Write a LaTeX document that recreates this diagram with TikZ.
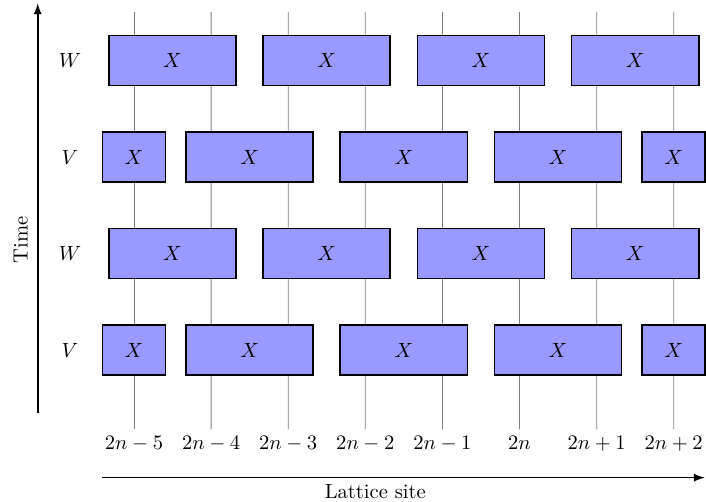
\documentclass[tikz,border=0pt]{standalone}
\usepackage{tikz}
\usetikzlibrary{shapes}
\usetikzlibrary{arrows,positioning}
\tikzset{gate node/.style={rectangle, draw=black, fill=blue!40, thick,
    minimum width=2.17cm, minimum height=0.85cm, inner sep=0pt}}
\tikzset{half node/.style={gate node, minimum width=1.075cm}}
\tikzset{site line/.style={draw=gray, thin}}
\tikzset{site label/.style={anchor=north}}
\tikzset{axis edge/.style={draw=black, thick, -latex}}

\begin{document}
\begin{tikzpicture}
          [xscale=1.316, yscale=1.647, auto]
          \useasboundingbox (-1.738,-0.575) rectangle (7.419,4.627);
          % lattice sites
          \coordinate (top0) at (0,4.503);
          \coordinate (top1) at (1,4.503);
          \coordinate (top2) at (2,4.503);
          \coordinate (top3) at (3,4.503);
          \coordinate (top4) at (4,4.503);
          \coordinate (top5) at (5,4.503);
          \coordinate (top6) at (6,4.503);
          \coordinate (top7) at (7,4.503);
          \node [site label] (site0) at (0,0.178) {$2n-5$};
          \node [site label] (site1) at (1,0.178) {$2n-4$};
          \node [site label] (site2) at (2,0.178) {$2n-3$};
          \node [site label] (site3) at (3,0.178) {$2n-2$};
          \node [site label] (site4) at (4,0.178) {$2n-1$};
          \node [site label] (site5) at (5,0.178) {$2n$};
          \node [site label] (site6) at (6,0.178) {$2n+1$};
          \node [site label] (site7) at (7,0.178) {$2n+2$};
          \draw [site line] (top0) to (site0);
          \draw [site line] (top1) to (site1);
          \draw [site line] (top2) to (site2);
          \draw [site line] (top3) to (site3);
          \draw [site line] (top4) to (site4);
          \draw [site line] (top5) to (site5);
          \draw [site line] (top6) to (site6);
          \draw [site line] (top7) to (site7);

          % gates
          \node [gate node] (r4n0) at (0.5,4) {$X$};
          \node [gate node] (r4n1) at (2.5,4) {$X$};
          \node [gate node] (r4n2) at (4.5,4) {$X$};
          \node [gate node] (r4n3) at (6.5,4) {$X$};
          \node [half node] (r3n0) at (0,3)   {$X$};
          \node [gate node] (r3n1) at (1.5,3) {$X$};
          \node [gate node] (r3n2) at (3.5,3) {$X$};
          \node [gate node] (r3n3) at (5.5,3) {$X$};
          \node [half node] (r3n4) at (7,3)   {$X$};
          \node [gate node] (r2n0) at (0.5,2) {$X$};
          \node [gate node] (r2n1) at (2.5,2) {$X$};
          \node [gate node] (r2n2) at (4.5,2) {$X$};
          \node [gate node] (r2n3) at (6.5,2) {$X$};
          \node [half node] (r1n0) at (0,1)   {$X$};
          \node [gate node] (r1n1) at (1.5,1) {$X$};
          \node [gate node] (r1n2) at (3.5,1) {$X$};
          \node [gate node] (r1n3) at (5.5,1) {$X$};
          \node [half node] (r1n4) at (7,1)   {$X$};

          \node (row4) at (-0.83,4) {$W$};
          \node (row3) at (-0.83,3) {$V$};
          \node (row2) at (-0.83,2) {$W$};
          \node (row1) at (-0.83,1) {$V$};

          % axes
          \coordinate (tbot)  at (-1.249,0.344);
          \coordinate (ttop)  at (-1.249,4.59);
          \coordinate (lleft) at (-0.411,-0.323);
          \coordinate (lright) at (7.40,-0.323);
          \draw [axis edge] (tbot) to (ttop);
          \draw [axis edge] (lleft) to (lright);
          \node [rotate=90] (time) at (-1.47,2.14) {Time};
          \node (lattice) at (3.13,-0.472) {Lattice site};
        \end{tikzpicture}
\end{document}
